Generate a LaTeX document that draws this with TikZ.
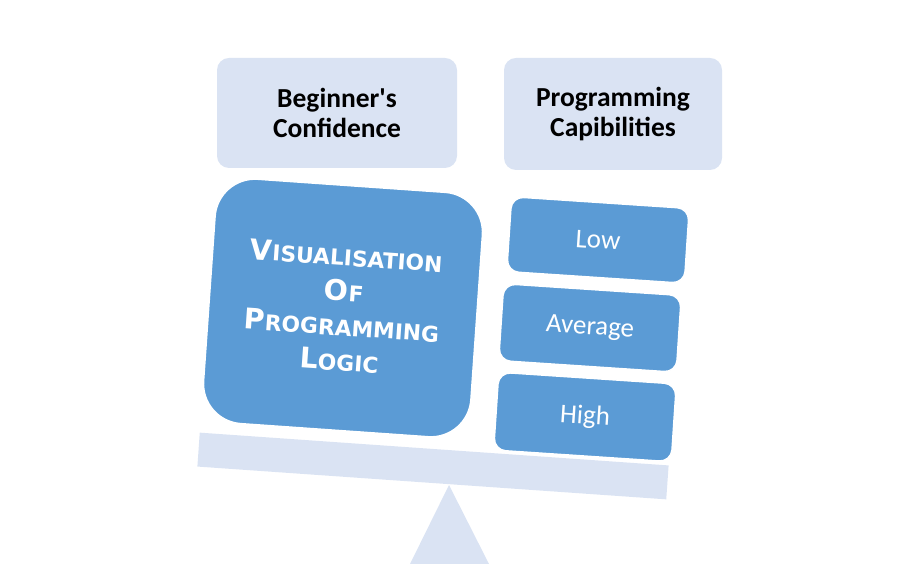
\documentclass[tikz,border=0pt]{standalone}
\usepackage{fontspec}
\setmainfont{Carlito}
\newfontfamily\cpfont{DejaVu Sans}
\definecolor{accblue}{HTML}{5B9BD5}
\definecolor{paleblue}{HTML}{DAE3F3}
\newcommand{\cpw}[2]{{\fontsize{28.5}{35}\selectfont #1}#2}
\begin{document}
\begin{tikzpicture}[x=1pt,y=1pt,
  headbox/.style={fill=paleblue, draw=none, rounded corners=12pt, align=center,
    font=\fontsize{27.5}{30}\selectfont\bfseries, text=black, inner sep=0pt},
  bigbox/.style={fill=accblue, draw=white, line width=1.5pt, rounded corners=40pt,
    align=center, text=white, inner sep=0pt, rotate=-4,
    font=\cpfont\bfseries\fontsize{21.8}{35}\selectfont},
  levelbox/.style={fill=accblue, draw=white, line width=1.5pt, rounded corners=12pt,
    align=center, text=white, inner sep=0pt, rotate=-3.8,
    font=\fontsize{27}{30}\selectfont, minimum width=178pt},
  beamstyle/.style={fill=paleblue, draw=none, inner sep=0pt, rotate=-4},
]
\useasboundingbox (0,0) rectangle (905,575);
% fulcrum
\path[fill=paleblue] (449,90) -- (489,11) -- (410,11) -- cycle;
% beam
\node[beamstyle, minimum width=470pt, minimum height=34pt] (beam) at (433,109) {};
% header boxes
\node[headbox, minimum width=240pt, minimum height=110pt] (conf) at (337,462) {Beginner\textquotesingle s\\Confidence};
\node[headbox, minimum width=218pt, minimum height=112pt] (cap) at (613,461) {Programming\\Capibilities};
% big box
\node[bigbox, minimum width=268pt, minimum height=245pt] (vis) at (343,267)
  {\cpw{V}{ISUALISATION}\\ \cpw{O}{F}\\ \cpw{P}{ROGRAMMING}\\ \cpw{L}{OGIC}};
% level boxes
\node[levelbox, minimum height=75pt] (low) at (598,335) {Low};
\node[levelbox, minimum height=77pt] (avg) at (590,247) {Average};
\node[levelbox, minimum height=78pt] (high) at (585,158) {High};
\end{tikzpicture}
\end{document}
